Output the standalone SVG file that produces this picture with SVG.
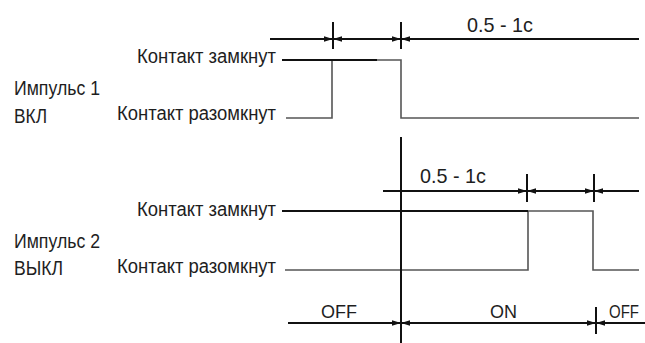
<svg xmlns="http://www.w3.org/2000/svg" width="645" height="343" viewBox="0 0 645 343">
<style>
text{font-family:"Liberation Sans",Arial,sans-serif;fill:#1e1e1e}
.lbl{font-size:20px}
.dim{font-size:21px}
.st{font-size:18px}
.k{stroke:#111;stroke-width:2;fill:none}
.g{stroke:#555;stroke-width:1.6;fill:none}
.a{stroke:#111;stroke-width:2;fill:none;marker-end:url(#ah)}
.aa{stroke:#111;stroke-width:2;fill:none;marker-start:url(#ah);marker-end:url(#ah)}
</style>
<defs>
<marker id="ah" markerUnits="userSpaceOnUse" markerWidth="9" markerHeight="6" refX="8" refY="3" orient="auto-start-reverse">
<path d="M0,0.3 L9,3 L0,5.7 z" fill="#111"/>
</marker>
</defs>
<g id="labels1">
<text class="lbl" x="137" y="63" textLength="139" lengthAdjust="spacingAndGlyphs">Контакт замкнут</text>
<text class="lbl" x="14" y="95" textLength="86" lengthAdjust="spacingAndGlyphs">Импульс 1</text>
<text class="lbl" x="14" y="123" textLength="33" lengthAdjust="spacingAndGlyphs">ВКЛ</text>
<text class="lbl" x="117" y="120" textLength="159" lengthAdjust="spacingAndGlyphs">Контакт разомкнут</text>
</g>
<g id="labels2">
<text class="lbl" x="137" y="216" textLength="139" lengthAdjust="spacingAndGlyphs">Контакт замкнут</text>
<text class="lbl" x="14" y="248" textLength="86" lengthAdjust="spacingAndGlyphs">Импульс 2</text>
<text class="lbl" x="14" y="275" textLength="49" lengthAdjust="spacingAndGlyphs">ВЫКЛ</text>
<text class="lbl" x="117" y="273" textLength="159" lengthAdjust="spacingAndGlyphs">Контакт разомкнут</text>
</g>
<g id="signal1">
<path class="g" d="M286,118 H332 V60 H401 V118 H639"/>
<path class="k" d="M282,60 H377"/>
</g>
<g id="signal2">
<path class="g" d="M285,270 H528 V211 H593 V270 H639"/>
<path class="k" d="M282,211 H528"/>
</g>
<g id="connectors">
<line class="k" x1="401" y1="137" x2="401" y2="343"/>
<line class="k" x1="333" y1="22" x2="333" y2="49"/>
<line class="k" x1="401" y1="22" x2="401" y2="49"/>
<line class="a" x1="270" y1="39" x2="332" y2="39"/>
<line class="aa" x1="334" y1="39" x2="400" y2="39"/>
<line class="a" x1="639" y1="39" x2="402" y2="39"/>
<line class="k" x1="527" y1="174" x2="527" y2="202"/>
<line class="k" x1="594" y1="174" x2="594" y2="202"/>
<line class="a" x1="383" y1="191" x2="526" y2="191"/>
<line class="aa" x1="528" y1="191" x2="593" y2="191"/>
<line class="a" x1="639" y1="191" x2="595" y2="191"/>
<line class="k" x1="596" y1="307" x2="596" y2="334"/>
<line class="a" x1="288" y1="323" x2="400" y2="323"/>
<line class="aa" x1="402" y1="323" x2="595" y2="323"/>
<line class="a" x1="645" y1="323" x2="597" y2="323"/>
</g>
<g id="dimtext">
<text class="dim" x="467" y="32" textLength="66" lengthAdjust="spacingAndGlyphs">0.5 - 1c</text>
<text class="dim" x="420" y="183" textLength="66" lengthAdjust="spacingAndGlyphs">0.5 - 1c</text>
<text class="st" x="321" y="318" textLength="36" lengthAdjust="spacingAndGlyphs">OFF</text>
<text class="st" x="490" y="318" textLength="27" lengthAdjust="spacingAndGlyphs">ON</text>
<text class="st" x="609" y="318" textLength="30" lengthAdjust="spacingAndGlyphs">OFF</text>
</g>
</svg>
